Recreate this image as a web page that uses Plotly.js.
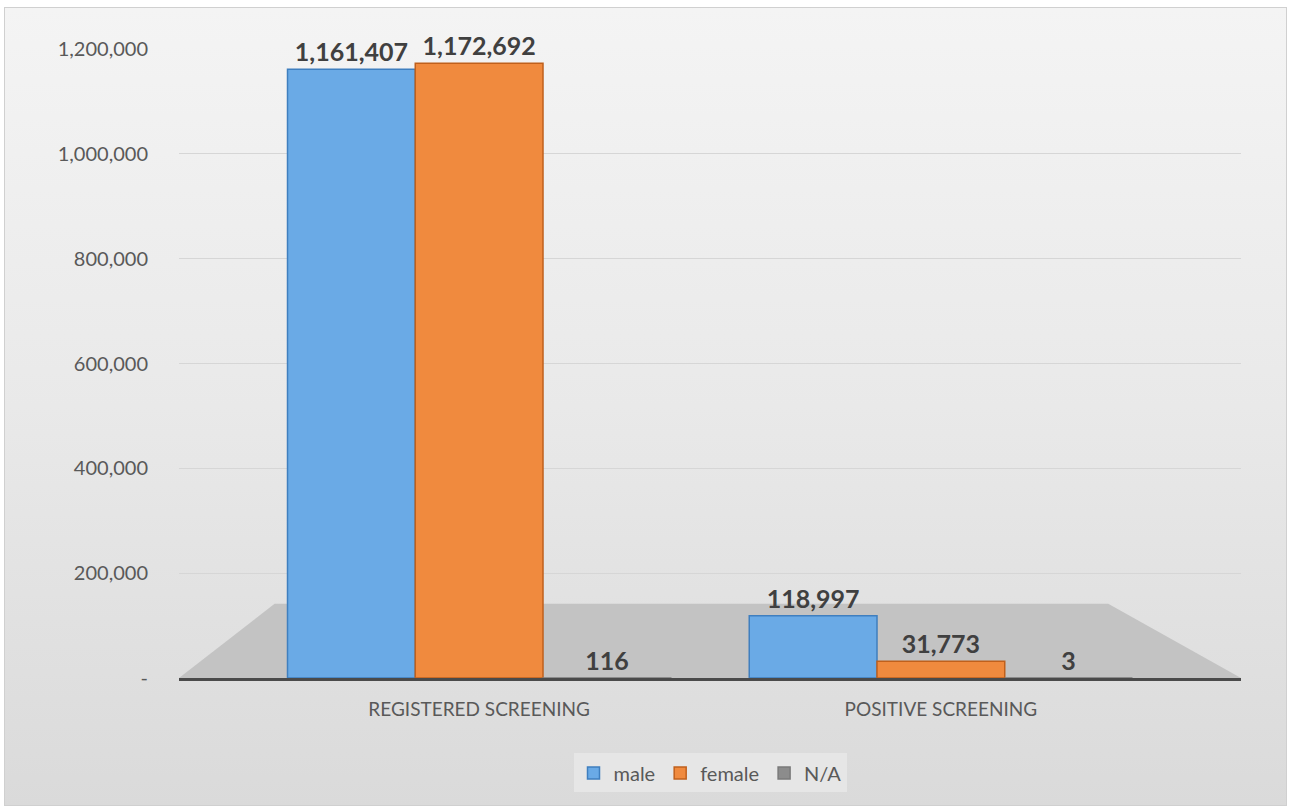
<!DOCTYPE html>
<html>
<head>
<meta charset="utf-8">
<script src="https://cdn.plot.ly/plotly-3.0.1.min.js"></script>
<style>
  html, body { margin: 0; padding: 0; background: #ffffff; }
  #wrap { position: absolute; left: 4px; top: 7px; width: 1281px; height: 797px;
          border: 1px solid #d0d0d0;
          background: linear-gradient(180deg, #f4f4f4 0%, #e9e9e9 50%, #dadada 100%); }
  #chart { width: 1281px; height: 797px; }
</style>
</head>
<body>
<div id="wrap"><div id="chart"></div></div>
<script>
const categories = ["REGISTERED SCREENING", "POSITIVE SCREENING"];
const male = [1161407, 118997];
const female = [1172692, 31773];
const na = [116, 3];
const seriesNames = ["male", "female", "N/A"];
const yTickVals = [0, 200000, 400000, 600000, 800000, 1000000, 1200000];
const yTickText = ["-", "200,000", "400,000", "600,000", "800,000", "1,000,000", "1,200,000"];

const fmt = v => v.toLocaleString("en-US");
const labelFont = {family: "Lato, 'Open Sans', sans-serif", size: 25, color: "#404040", weight: 700};

function bar(name, vals, fill, line) {
  return {
    type: "bar", name: name, x: categories, y: vals,
    text: vals.map(v => "<b>" + fmt(v) + "</b>"),
    textposition: "outside", textfont: labelFont, cliponaxis: false,
    marker: {color: fill, line: {color: line, width: 1.5}},
    hoverinfo: "x+y+name"
  };
}

const data = [
  bar(seriesNames[0], male, "#6aaae6", "#3f7fbf"),
  bar(seriesNames[1], female, "#f08a3e", "#c0601c"),
  bar(seriesNames[2], na, "#8c8c8c", "#7a7a7a")
];

const layout = {
  width: 1281, height: 797,
  paper_bgcolor: "rgba(0,0,0,0)", plot_bgcolor: "rgba(0,0,0,0)",
  margin: {l: 174, r: 45, t: 41, b: 124},
  barmode: "group", bargap: 0.17, bargroupgap: 0,
  font: {family: "Lato, 'Open Sans', sans-serif", color: "#595959", size: 20},
  xaxis: {
    range: [-0.65, 1.65],
    showgrid: false, showline: true, linecolor: "#4a4a4a", linewidth: 3,
    ticks: "", tickfont: {size: 19, color: "#595959"}, ticklabelstandoff: 12
  },
  yaxis: {
    range: [0, 1200000], tickvals: yTickVals, ticktext: yTickText,
    showgrid: true, gridcolor: "#d6d6d6", gridwidth: 1, zeroline: false,
    showline: false, ticks: "", tickfont: {size: 20, color: "#595959"},
    ticklabelstandoff: 30
  },
  shapes: [{
    type: "path", xref: "paper", yref: "paper", layer: "below",
    path: "M 0 0 L 0.09 0.118 L 0.875 0.118 L 1 0 Z",
    fillcolor: "#c3c3c3", line: {width: 0}
  }],
  legend: {
    orientation: "h", x: 0.5, xanchor: "center", y: -0.12, yanchor: "top",
    bgcolor: "#e6e6e6", font: {size: 20, color: "#595959"},
    itemwidth: 30, traceorder: "normal"
  },
  showlegend: true
};

Plotly.newPlot("chart", data, layout, {displayModeBar: false, staticPlot: true});
</script>
</body>
</html>
